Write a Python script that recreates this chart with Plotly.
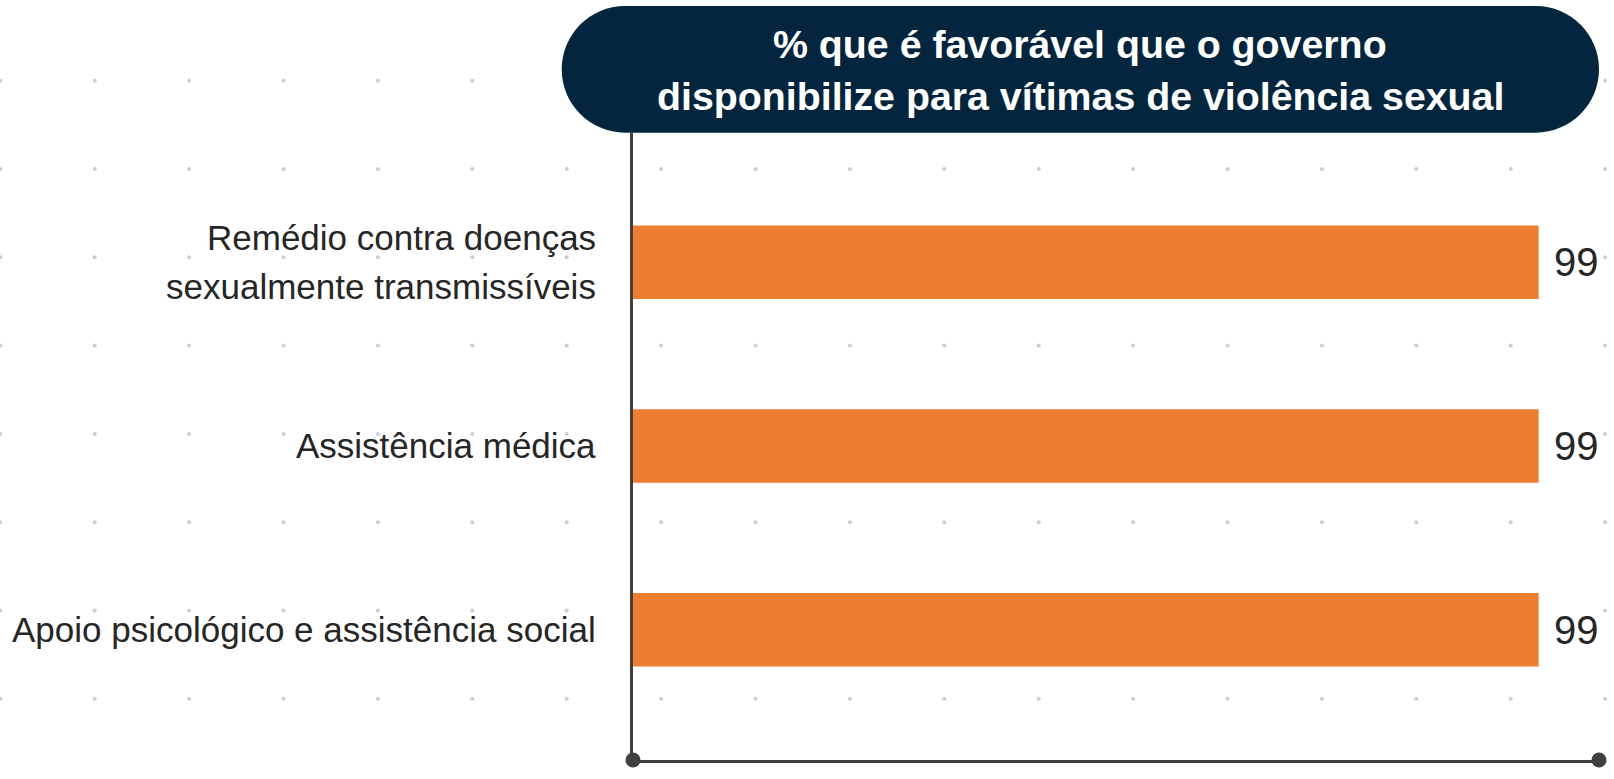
import plotly.graph_objects as go
import numpy as np

# ---- data ----
categories = [
    "Remédio contra doenças<br>sexualmente transmissíveis",
    "Assistência médica",
    "Apoio psicológico e assistência social",
]
values = [99, 99, 99]
value_labels = ["99", "99", "99"]
title_lines = [
    "% que é favorável que o governo",
    "disponibilize para vítimas de violência sexual",
]

# ---- layout constants (pixels) ----
W, H = 1614, 779
PLOT_L, PLOT_R, PLOT_T, PLOT_B = 633, 1599, 133, 760
X_MAX = 105.6
Y_TOP, Y_BOTTOM = -0.703, 2.709
FONT = "Arial Narrow, Liberation Sans Narrow, Liberation Sans, Arial, sans-serif"
AXIS_COLOR = "#404040"
TEXT_COLOR = "#262626"
LABEL_SIZE = 35
LABEL_LINE_GAP = 49
VALUE_SIZE = 40
TITLE_SIZE = 39.3

fig = go.Figure()

# background dot grid (decoration, pixel space)
gx = 0.3 + 94.4 * np.arange(18)
gy = 80.7 + 88.3 * np.arange(8)
GX, GY = np.meshgrid(gx, gy)
fig.add_trace(go.Scatter(
    x=GX.ravel(), y=GY.ravel(), mode="markers",
    marker=dict(size=4, color="#c9cdd8"),
    xaxis="x", yaxis="y", hoverinfo="skip", showlegend=False,
))

# bars
idx = list(range(len(categories)))
fig.add_trace(go.Bar(
    x=values, y=idx, orientation="h", width=0.4,
    marker=dict(color="#ED7D31", line=dict(width=0)),
    xaxis="x2", yaxis="y2", hoverinfo="skip", showlegend=False,
))

# axis end dots
fig.add_trace(go.Scatter(
    x=[0, X_MAX], y=[Y_BOTTOM, Y_BOTTOM], mode="markers",
    marker=dict(size=15, color=AXIS_COLOR),
    xaxis="x2", yaxis="y2", cliponaxis=False,
    hoverinfo="skip", showlegend=False,
))

annotations = []
# category labels (one annotation per line to control line spacing)
for i, c in enumerate(categories):
    lines = c.split("<br>")
    n = len(lines)
    for j, line in enumerate(lines):
        annotations.append(dict(
            x=0, y=i, xref="x2", yref="y2", text=line, showarrow=False,
            xanchor="right", yanchor="middle", align="right", xshift=-35,
            yshift=-(j - (n - 1) / 2) * LABEL_LINE_GAP,
            font=dict(family=FONT, size=LABEL_SIZE, color=TEXT_COLOR),
        ))
# value labels
for i, (v, t) in enumerate(zip(values, value_labels)):
    annotations.append(dict(
        x=v, y=i, xref="x2", yref="y2", text=t, showarrow=False,
        xanchor="left", yanchor="middle", xshift=13,
        font=dict(family=FONT, size=VALUE_SIZE, color=TEXT_COLOR),
    ))
# title lines
box_x0, box_x1, box_y0, box_y1 = 561.7, 1599, 6, 132.7
cx = (box_x0 + box_x1) / 2
for line, ty in zip(title_lines, [44, 96]):
    annotations.append(dict(
        x=cx, y=ty, xref="x", yref="y", text="<b>" + line + "</b>",
        showarrow=False, xanchor="center", yanchor="middle",
        font=dict(family=FONT, size=TITLE_SIZE, color="white"),
    ))

# stadium title box path
r = (box_y1 - box_y0) / 2
k = 0.5523 * r
path = (
    f"M {box_x0 + r},{box_y0} L {box_x1 - r},{box_y0} "
    f"C {box_x1 - r + k},{box_y0} {box_x1},{box_y0 + r - k} {box_x1},{box_y0 + r} "
    f"C {box_x1},{box_y0 + r + k} {box_x1 - r + k},{box_y1} {box_x1 - r},{box_y1} "
    f"L {box_x0 + r},{box_y1} "
    f"C {box_x0 + r - k},{box_y1} {box_x0},{box_y0 + r + k} {box_x0},{box_y0 + r} "
    f"C {box_x0},{box_y0 + r - k} {box_x0 + r - k},{box_y0} {box_x0 + r},{box_y0} Z"
)

fig.update_layout(
    width=W, height=H,
    margin=dict(l=0, r=0, t=0, b=0),
    paper_bgcolor="white", plot_bgcolor="rgba(0,0,0,0)",
    showlegend=False,
    xaxis=dict(domain=[0, 1], range=[0, W], visible=False, fixedrange=True),
    yaxis=dict(domain=[0, 1], range=[H, 0], visible=False, fixedrange=True),
    xaxis2=dict(
        domain=[PLOT_L / W, PLOT_R / W], range=[0, X_MAX], anchor="y2",
        showline=True, linecolor=AXIS_COLOR, linewidth=3,
        showticklabels=False, showgrid=False, zeroline=False, ticks="",
        fixedrange=True,
    ),
    yaxis2=dict(
        domain=[1 - PLOT_B / H, 1 - PLOT_T / H], range=[Y_BOTTOM, Y_TOP],
        anchor="x2", showline=True, linecolor=AXIS_COLOR, linewidth=2.5,
        showticklabels=False, showgrid=False, zeroline=False, ticks="",
        fixedrange=True,
    ),
    shapes=[dict(type="path", path=path, xref="x", yref="y",
                 fillcolor="#03263e", line=dict(width=0), layer="above")],
    annotations=annotations,
)

fig.write_html(
    "out.html",
    config=dict(displayModeBar=False),
    post_script="document.body.style.margin='0';document.body.style.overflow='hidden';",
)
